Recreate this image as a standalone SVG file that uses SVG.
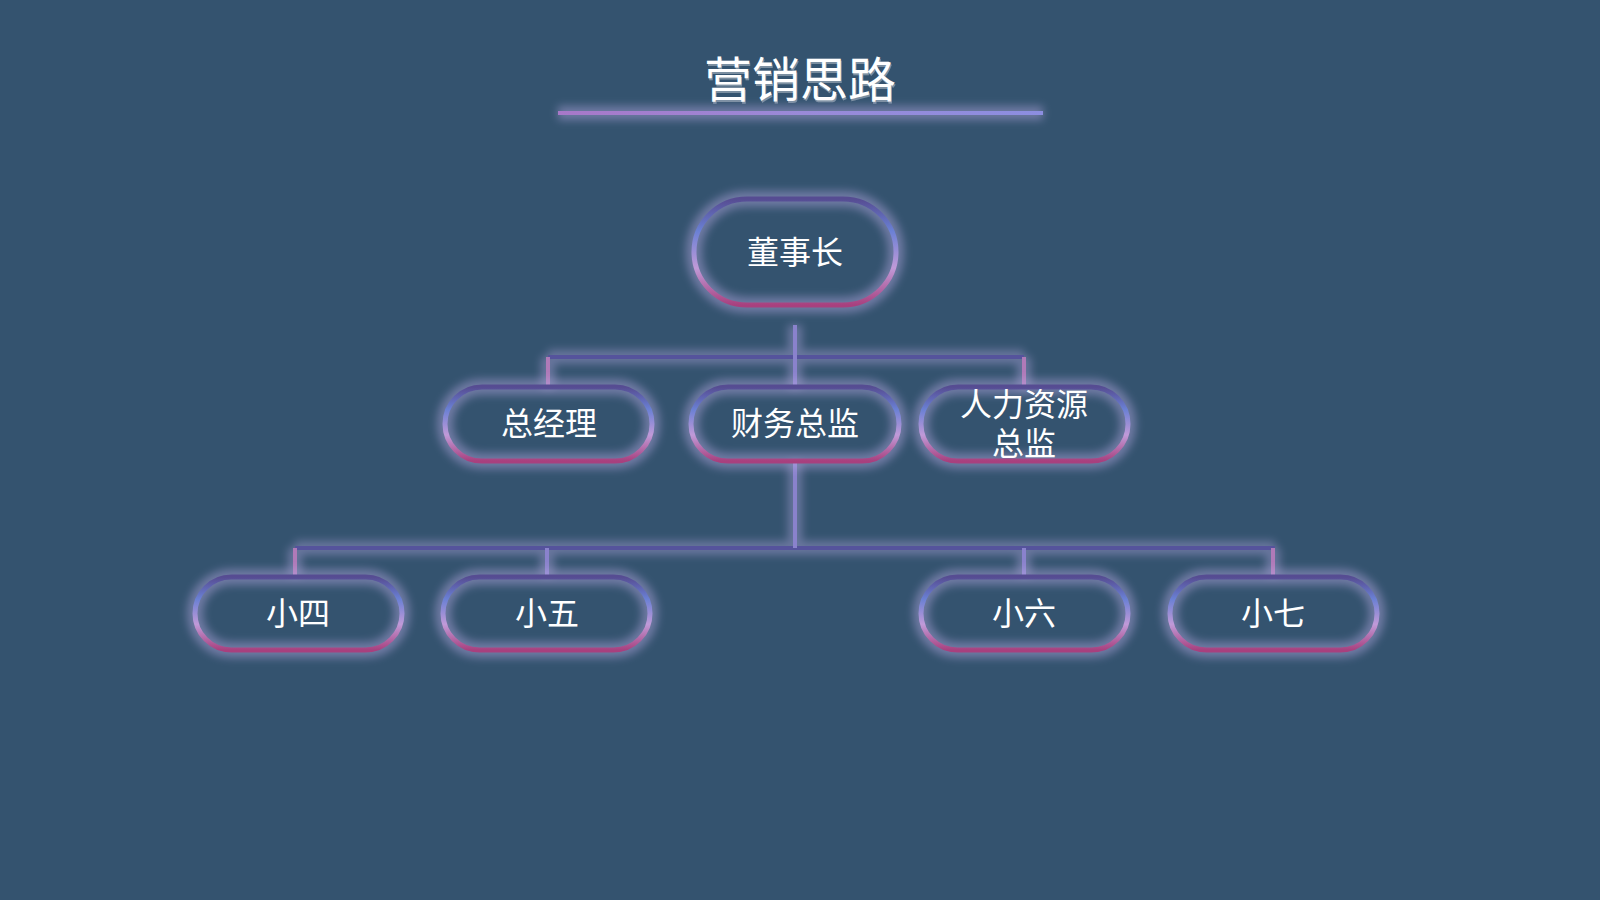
<svg xmlns="http://www.w3.org/2000/svg" width="1600" height="900" viewBox="0 0 1600 900">
  <defs>
    <linearGradient id="pillGrad" x1="0" y1="0" x2="0" y2="1">
      <stop offset="0" stop-color="#564c92"/>
      <stop offset="0.3" stop-color="#6a80d4"/>
      <stop offset="0.65" stop-color="#c09ad8"/>
      <stop offset="1" stop-color="#a8407e"/>
    </linearGradient>
    <linearGradient id="titleLine" gradientUnits="userSpaceOnUse" x1="558" y1="0" x2="1043" y2="0">
      <stop offset="0" stop-color="#a878c8"/>
      <stop offset="0.5" stop-color="#9a8ad8"/>
      <stop offset="1" stop-color="#8c8ee0"/>
    </linearGradient>
    <filter id="glow" x="-20%" y="-40%" width="140%" height="180%">
      <feGaussianBlur stdDeviation="4"/>
    </filter>
    <filter id="glowU" filterUnits="userSpaceOnUse" x="0" y="0" width="1600" height="900">
      <feGaussianBlur stdDeviation="4"/>
    </filter>
    <style>
      .glow { fill: none; stroke: #b8aae4; stroke-width: 16; opacity: 0.45; filter: url(#glow); }
      .pill { fill: none; stroke: url(#pillGrad); stroke-width: 5; }
      .hline { stroke: #55539c; stroke-width: 4; fill: none; }
      .vline { stroke: #8a82cc; stroke-width: 4; fill: none; }
      .drop { stroke: #b07ab8; stroke-width: 4; fill: none; }
      .lbl { font-family: "Liberation Sans", "Noto Sans CJK SC", sans-serif; font-size: 32px; fill: #ffffff; text-anchor: middle; }
      .title { font-family: "Liberation Sans", "Noto Sans CJK SC", sans-serif; font-size: 48px; fill: #ffffff; text-anchor: middle; }
    </style>
  </defs>

  <rect x="0" y="0" width="1600" height="900" fill="#34536f"/>

  <g id="title">
    <text class="title" x="800" y="97" fill="#1e2f44" opacity="0.35" transform="translate(1,1.5)">营销思路</text>
    <text class="title" x="800" y="97">营销思路</text>
    <line x1="558" y1="113" x2="1043" y2="113" stroke="#b8aae4" stroke-width="14" opacity="0.45" filter="url(#glowU)"/>
    <rect x="558" y="111" width="485" height="4" fill="url(#titleLine)"/>
  </g>

  <g id="connectors">
    <g stroke="#b8aae4" stroke-width="14" opacity="0.4" filter="url(#glowU)" fill="none">
      <path d="M795 325 V388 M548 357 H1024 M548 357 V388 M1024 357 V388"/>
      <path d="M795 462 V548 M295 548 H1275 M295 548 V576 M547 548 V576 M1024 548 V576 M1273 548 V576"/>
    </g>
    <line class="hline" x1="548" y1="357" x2="1024" y2="357"/>
    <line class="vline" x1="795" y1="325" x2="795" y2="388"/>
    <line class="drop" x1="548" y1="357" x2="548" y2="388"/>
    <line class="drop" x1="1024" y1="357" x2="1024" y2="388"/>
    <line class="hline" x1="295" y1="548" x2="1275" y2="548"/>
    <line class="vline" x1="795" y1="462" x2="795" y2="548"/>
    <line class="drop" x1="295" y1="548" x2="295" y2="576"/>
    <line class="vline" x1="547" y1="548" x2="547" y2="576"/>
    <line class="vline" x1="1024" y1="548" x2="1024" y2="576"/>
    <line class="drop" x1="1273" y1="548" x2="1273" y2="576"/>
  </g>

  <g id="node-chairman">
    <rect class="glow" x="694" y="199" width="202" height="106" rx="53"/>
    <rect class="pill" x="694" y="199" width="202" height="106" rx="53"/>
    <text class="lbl" x="795" y="264">董事长</text>
  </g>

  <g id="node-gm">
    <rect class="glow" x="445" y="387" width="207" height="74" rx="37"/>
    <rect class="pill" x="445" y="387" width="207" height="74" rx="37"/>
    <text class="lbl" x="549" y="435">总经理</text>
  </g>

  <g id="node-cfo">
    <rect class="glow" x="691" y="387" width="208" height="74" rx="37"/>
    <rect class="pill" x="691" y="387" width="208" height="74" rx="37"/>
    <text class="lbl" x="795" y="435">财务总监</text>
  </g>

  <g id="node-hr">
    <rect class="glow" x="921" y="387" width="207" height="74" rx="37"/>
    <rect class="pill" x="921" y="387" width="207" height="74" rx="37"/>
    <text class="lbl" x="1024" y="416">人力资源</text>
    <text class="lbl" x="1024" y="455">总监</text>
  </g>

  <g id="node-xiaosi">
    <rect class="glow" x="195" y="577" width="207" height="73" rx="36.5"/>
    <rect class="pill" x="195" y="577" width="207" height="73" rx="36.5"/>
    <text class="lbl" x="298" y="625">小四</text>
  </g>

  <g id="node-xiaowu">
    <rect class="glow" x="443" y="577" width="207" height="73" rx="36.5"/>
    <rect class="pill" x="443" y="577" width="207" height="73" rx="36.5"/>
    <text class="lbl" x="547" y="625">小五</text>
  </g>

  <g id="node-xiaoliu">
    <rect class="glow" x="921" y="577" width="207" height="73" rx="36.5"/>
    <rect class="pill" x="921" y="577" width="207" height="73" rx="36.5"/>
    <text class="lbl" x="1024" y="625">小六</text>
  </g>

  <g id="node-xiaoqi">
    <rect class="glow" x="1170" y="577" width="207" height="73" rx="36.5"/>
    <rect class="pill" x="1170" y="577" width="207" height="73" rx="36.5"/>
    <text class="lbl" x="1273" y="625">小七</text>
  </g>
</svg>
